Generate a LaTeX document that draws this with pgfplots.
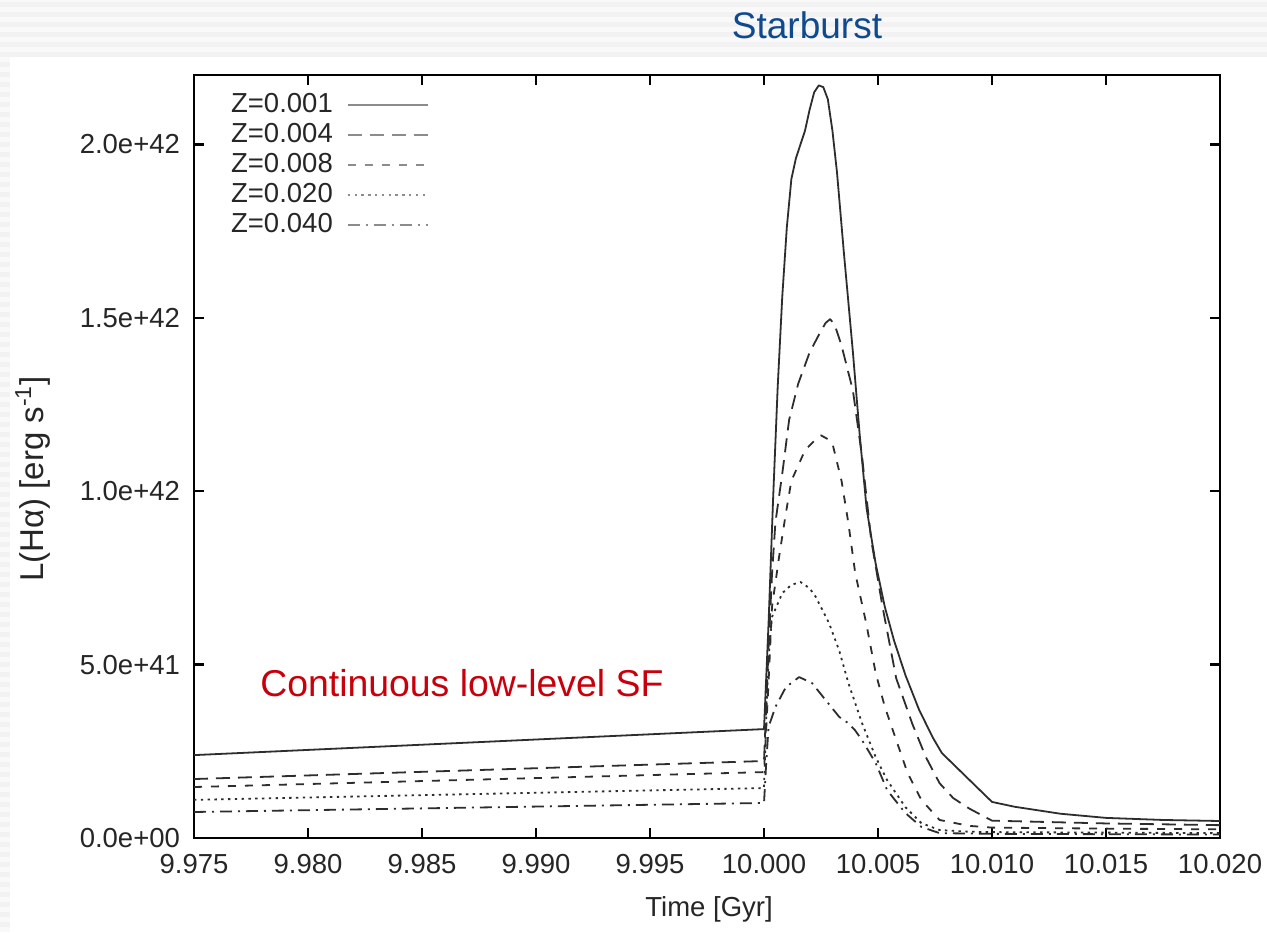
\documentclass[border=0pt]{standalone}
\usepackage{fontspec}
\setmainfont{Liberation Sans}
\usepackage{pgfplots}
\pgfplotsset{compat=1.18}
\definecolor{titleblue}{RGB}{16,74,140}
\definecolor{sfred}{RGB}{200,0,12}
\definecolor{bgA}{RGB}{242,242,242}
\definecolor{bgB}{RGB}{249,249,249}
\definecolor{linec}{RGB}{45,45,45}
\begin{document}
\begin{tikzpicture}
\useasboundingbox (0,0) rectangle (633.5pt,466pt);
% slide background
\fill[bgA] (0,0) rectangle (633.5pt,466pt);
\foreach \i in {0,...,93} {\fill[bgB] (0,\i*5pt) rectangle (633.5pt,\i*5pt+2.5pt);}
\fill[white] (5pt,0) rectangle (633.5pt,437.5pt);
\node[font=\fontsize{18.5}{22}\selectfont, text=titleblue] at (403.5pt,453.5pt) {Starburst};
\begin{axis}[
  at={(97pt,47pt)}, anchor=south west,
  scale only axis, width=513pt, height=381.5pt,
  xmin=9.975, xmax=10.020, ymin=0, ymax=2.2,
  axis line style={line width=1.3pt},
  tick align=inside, major tick length=5pt,
  every tick/.style={line width=1.2pt, black},
  xtick={9.975,9.980,9.985,9.990,9.995,10.000,10.005,10.010,10.015,10.020},
  xticklabels={9.975,9.980,9.985,9.990,9.995,10.000,10.005,10.010,10.015,10.020},
  ytick={0,0.5,1,1.5,2},
  yticklabels={0.0e+00,5.0e+41,1.0e+42,1.5e+42,2.0e+42},
  tick label style={font=\fontsize{13.75}{16}\selectfont, text=black!85},
  xticklabel style={yshift=-4.5pt},
  yticklabel style={xshift=-3.5pt},
  label style={font=\fontsize{13.75}{16}\selectfont, text=black!85},
  xlabel={Time [Gyr]},
  ylabel={L(Hα) [erg s\textsuperscript{-1}]},
  xlabel style={at={(axis description cs:0.502,-0.093)}, anchor=center},
  ylabel style={at={(axis description cs:-0.157,0.4705)}, anchor=center,
    font=\fontsize{16.5}{19}\selectfont},
  legend cell align=left,
  legend plot pos=right,
  legend image code/.code={\draw[#1, draw=black!45] (0pt,0pt) -- (40pt,0pt);},
  legend style={at={(axis description cs:0.028,0.986)}, anchor=north west,
    draw=none, fill=none, column sep=6pt, row sep=0pt,
    font=\fontsize{13.75}{16}\selectfont, text=black!85,
    nodes={inner sep=1pt, text height=10pt, text depth=3pt}},
  every axis plot/.append style={line width=0.9pt, color=linec, line join=round},
]
\addplot[solid] coordinates {
(9.975,0.239) (10.000,0.314) (10.0002,0.62) (10.0004,0.98) (10.0006,1.30)
(10.0008,1.56) (10.0010,1.76) (10.0012,1.90) (10.0014,1.96) (10.0016,2.00)
(10.0018,2.04) (10.0020,2.10) (10.0022,2.15) (10.0024,2.17) (10.0026,2.165)
(10.0028,2.13) (10.0030,2.04) (10.0032,1.92) (10.0035,1.69) (10.0039,1.40)
(10.0042,1.16) (10.0045,0.95) (10.0049,0.79) (10.0053,0.666) (10.0057,0.57)
(10.0062,0.47) (10.0068,0.37) (10.0074,0.29) (10.0078,0.245) (10.0090,0.168)
(10.0100,0.104) (10.0110,0.090) (10.0130,0.070) (10.0150,0.058) (10.0175,0.052)
(10.0200,0.049)};
\addlegendentry{Z=0.001}
\addplot[dash pattern=on 7pt off 4pt] coordinates {
(9.975,0.170) (10.000,0.222) (10.0002,0.55) (10.00035,0.76) (10.0005,0.91)
(10.0008,1.05) (10.0011,1.205) (10.0015,1.31) (10.0020,1.40) (10.0024,1.45)
(10.0027,1.485) (10.0029,1.496) (10.0031,1.48) (10.0034,1.42) (10.0039,1.29)
(10.0043,1.10) (10.0047,0.86) (10.0052,0.666) (10.0058,0.46) (10.0065,0.33)
(10.0071,0.233) (10.0077,0.158) (10.0083,0.115) (10.0090,0.085) (10.0100,0.050)
(10.0150,0.042) (10.0200,0.037)};
\addlegendentry{Z=0.004}
\addplot[dash pattern=on 4pt off 4.5pt] coordinates {
(9.975,0.147) (10.000,0.190) (10.0002,0.45) (10.00035,0.666) (10.00066,0.81)
(10.00096,0.937) (10.0012,1.03) (10.0018,1.118) (10.0022,1.145) (10.0025,1.161)
(10.0028,1.15) (10.0030,1.138) (10.0034,1.03) (10.0037,0.908) (10.0040,0.764)
(10.00448,0.62) (10.0049,0.475) (10.0053,0.378) (10.0058,0.282) (10.0063,0.187)
(10.0069,0.11) (10.0077,0.052) (10.0090,0.035) (10.0100,0.030) (10.0150,0.027)
(10.0200,0.025)};
\addlegendentry{Z=0.008}
\addplot[dash pattern=on 1.2pt off 2.2pt] coordinates {
(9.975,0.110) (10.000,0.144) (10.0001,0.35) (10.0002,0.52) (10.00035,0.637)
(10.0008,0.706) (10.0012,0.73) (10.0016,0.738) (10.0020,0.72) (10.00227,0.695)
(10.00285,0.62) (10.0033,0.54) (10.0037,0.447) (10.0043,0.331) (10.0049,0.233)
(10.0054,0.167) (10.0062,0.089) (10.0069,0.043) (10.0077,0.023) (10.0090,0.018)
(10.0100,0.017) (10.0200,0.014)};
\addlegendentry{Z=0.020}
\addplot[dash pattern=on 6pt off 3pt on 1pt off 3pt] coordinates {
(9.975,0.075) (10.000,0.101) (10.0001,0.22) (10.0002,0.32) (10.0005,0.378)
(10.00096,0.435) (10.00154,0.464) (10.0021,0.447) (10.0027,0.398) (10.0033,0.349)
(10.0037,0.331) (10.0040,0.31) (10.0043,0.282) (10.0049,0.216) (10.0054,0.138)
(10.0062,0.072) (10.0069,0.032) (10.0077,0.014) (10.0100,0.012) (10.0200,0.010)};
\addlegendentry{Z=0.040}
\node[font=\fontsize{18.7}{22}\selectfont, text=sfred] at (axis cs:9.98675,0.447) {Continuous low-level SF};
\end{axis}
\end{tikzpicture}
\end{document}
